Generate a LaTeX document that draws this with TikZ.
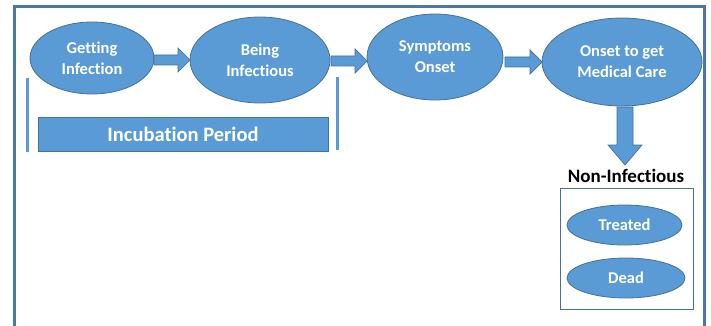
\documentclass[tikz,border=0pt]{standalone}
\usepackage{fontspec}
\setmainfont[Ligatures=NoCommon]{Carlito}
\usetikzlibrary{shapes.geometric}
\definecolor{fillblue}{HTML}{5B9BD5}
\definecolor{edgeblue}{HTML}{41719C}
\definecolor{framecol}{HTML}{4A77A8}
\tikzset{
  stage/.style={ellipse, draw=edgeblue, line width=0.8pt, fill=fillblue, text=white,
    font=\fontsize{16.5}{21}\selectfont\bfseries, align=center, inner sep=0pt},
  blockarrow/.style={fill=fillblue, draw=edgeblue, line width=0.7pt, line join=miter},
  barline/.style={draw=fillblue, line width=3pt},
}
\begin{document}
\begin{tikzpicture}[x=1pt,y=-1pt]
\useasboundingbox (0,0) rectangle (711,326);
% outer frame, open at the bottom
\draw[framecol, line width=3pt] (14,330) -- (14,7) -- (704,7) -- (704,330);

% stages
\node[stage, minimum width=124pt, minimum height=72pt] (get) at (92,58) {Getting\\Infection};
\node[stage, minimum width=140pt, minimum height=86pt] (inf) at (260,60) {Being\\Infectious};
\node[stage, minimum width=136pt, minimum height=86pt] (sym) at (435,57) {Symptoms\\Onset};
\node[stage, minimum width=160pt, minimum height=88pt] (med) at (622,62) {Onset to get\\Medical Care};

% block arrows between stages: start x, tip x, centre y, x where the head begins
\newcommand\harrow[4]{%
  \draw[blockarrow] (#1,#3-5) -- (#4,#3-5) -- (#4,#3-12) -- (#2,#3) -- (#4,#3+12)
    -- (#4,#3+5) -- (#1,#3+5) -- cycle;}
\harrow{154}{190}{60}{178}
\harrow{331}{367}{61}{355}
\harrow{505}{542}{62}{530}
% downward arrow
\draw[blockarrow] (617,107) -- (633,107) -- (633,145) -- (642,145) -- (625,165)
  -- (608,145) -- (617,145) -- cycle;

% incubation period
\draw[barline] (27,78) -- (27,152);
\draw[barline] (337,77) -- (337,150);
\node[draw=edgeblue, line width=0.6pt, fill=fillblue, text=white, minimum width=290pt,
  minimum height=34pt, inner sep=0pt, font=\fontsize{20.5}{22}\selectfont\bfseries]
  (incub) at (183,134) {Incubation Period};

% non-infectious outcomes
\node[font=\fontsize{19}{20}\selectfont\bfseries, text=black] (non) at (626,176) {Non-Infectious};
\node[draw=edgeblue, line width=0.6pt, minimum width=133pt, minimum height=121pt, inner sep=0pt]
  (box) at (626.5,248.5) {};
\node[stage, minimum width=115pt, minimum height=40pt] (treat) at (624.5,225) {Treated};
\node[stage, minimum width=118pt, minimum height=40pt] (dead) at (626,278) {Dead};
\end{tikzpicture}
\end{document}
